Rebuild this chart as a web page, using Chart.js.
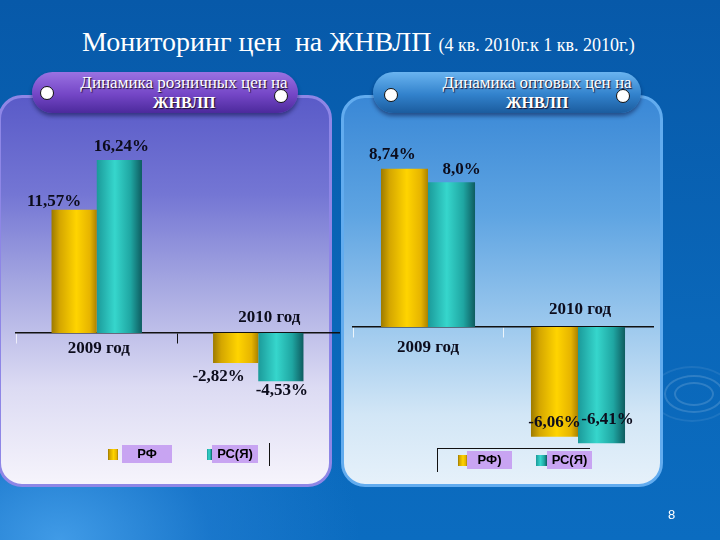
<!DOCTYPE html>
<html>
<head>
<meta charset="utf-8">
<script src="https://cdn.jsdelivr.net/npm/chart.js@4/dist/chart.umd.min.js"></script>
<style>
  html, body { margin: 0; padding: 0; }
  #slide {
    position: relative; width: 720px; height: 540px; overflow: hidden;
    background:
      radial-gradient(ellipse 300px 220px at 60px 540px, rgba(70,160,235,0.9) 0%, rgba(40,130,215,0.5) 50%, rgba(10,100,180,0) 100%),
      linear-gradient(#0759a9, #0a67b9 60%, #0b6cc0);
    font-family: "Liberation Serif", serif;
  }
  .title { position: absolute; left: 82px; top: 26px; color: #fff; font-size: 28px; white-space: nowrap; }
  .title small { font-size: 18px; }
  .panel { position: absolute; top: 95px; height: 386px; border-radius: 24px; }
  #p1 { left: -2px; width: 328px; border: 3px solid #8e86e6;
        background: linear-gradient(#5a5bc8 0%, #7476d4 25%, #a9abe2 50%, #dcdbf3 75%, #f6f4fc 100%); }
  #p2 { left: 341px; width: 316px; border: 3px solid #62acef;
        background: linear-gradient(#3a88d6 0%, #5ea4e2 30%, #9fcaee 60%, #d2e6f6 82%, #e6f1fa 100%); }
  .pill { position: absolute; top: 72px; height: 41px; border-radius: 21px; box-shadow: 0 3px 4px rgba(0,0,40,0.45); }
  #h1 { left: 32px; width: 266px; background: linear-gradient(#9a72e2, #7446c6 55%, #4c2a9c); }
  #h2 { left: 373px; width: 268px; background: linear-gradient(#6ab4f0, #3282cc 55%, #1b5c9e); }
  .dot { position: absolute; width: 12px; height: 12px; border-radius: 50%; background: #fff; border: 1.5px solid #111; }
  .htext { position: absolute; top: 73px; width: 240px; text-align: center; color: #fff; font-size: 17px; line-height: 20px;
           text-shadow: 1px 1px 1px #1a1030; white-space: nowrap; }
  .htext b { font-size: 16px; }
  canvas { position: absolute; left: 0; top: 0; }
  .mark { position: absolute; }
  .lbox { position: absolute; background: #c8a4f2; font: bold 13px "Liberation Sans", Arial, sans-serif; color: #000;
          text-align: center; line-height: 18px; height: 18px; }
  .ring { position: absolute; border-radius: 50%; border: 2px solid rgba(255,255,255,0.15); }
  .pgnum { position: absolute; left: 668px; top: 507px; color: #fff; font: 13px "Liberation Sans", sans-serif; }
</style>
</head>
<body>
<div id="slide">
  <div class="ring" style="left:664px;top:375px;width:56px;height:34px"></div>
  <div class="ring" style="left:674px;top:382px;width:36px;height:20px"></div>
  <div class="ring" style="left:650px;top:366px;width:80px;height:52px;border-color:rgba(255,255,255,0.08)"></div>

  <div class="title">Мониторинг цен&nbsp; на ЖНВЛП <small>(4 кв. 2010г.к 1 кв. 2010г.)</small></div>

  <div class="panel" id="p1"></div>
  <div class="panel" id="p2"></div>

  <div class="pill" id="h1"></div>
  <div class="pill" id="h2"></div>
  <div class="dot" style="left:40px;top:86px"></div>
  <div class="dot" style="left:274px;top:89px"></div>
  <div class="dot" style="left:384px;top:88px"></div>
  <div class="dot" style="left:616px;top:89px"></div>
  <div class="htext" style="left:64px">Динамика розничных цен на<br><b>ЖНВЛП</b></div>
  <div class="htext" style="left:417px">Динамика оптовых цен на<br><b>ЖНВЛП</b></div>

  <canvas id="retail" width="720" height="540"></canvas>
  <canvas id="wholesale" width="720" height="540"></canvas>

  <div id="legend1"></div>
  <div id="legend2"></div>
  <div class="pgnum">8</div>
</div>

<script>
// categories and values
const categories = ["2009 год", "2010 год"];
const retailNames = ["РФ", "РС(Я)"];
const wholesaleNames = ["РФ)", "РС(Я)"];
const retailRF = [11.57, -2.82];
const retailRS = [16.24, -4.53];
const wholesaleRF = [8.74, -6.06];
const wholesaleRS = [8.0, -6.41];
const retailTextRF = ["11,57%", "-2,82%"];
const retailTextRS = ["16,24%", "-4,53%"];
const wholesaleTextRF = ["8,74%", "-6,06%"];
const wholesaleTextRS = ["8,0%", "-6,41%"];

// cylinder shading for bars
const gold = [[0, "#9c7a00"], [0.18, "#d4a600"], [0.55, "#ffd400"], [0.85, "#e6b400"], [1, "#aa8200"]];
const teal = [[0, "#1b9a9a"], [0.4, "#36d6cc"], [0.75, "#1fa6a2"], [1, "#0e5c60"]];

function shade(stops) {
  return function (c) {
    const chart = c.chart;
    const xs = chart.scales.x;
    if (!xs || !chart.chartArea) return stops[2][1];
    const ds = chart.data.datasets;
    const catW = xs.width / chart.data.labels.length;
    const groupW = catW * chart.options.datasets.bar.categoryPercentage;
    const barW = groupW / ds.length;
    const left = xs.getPixelForValue(c.dataIndex) - groupW / 2 + c.datasetIndex * barW;
    const g = chart.ctx.createLinearGradient(left, 0, left + barW, 0);
    stops.forEach(s => g.addColorStop(s[0], s[1]));
    return g;
  };
}

const valueTags = {
  id: "valueTags",
  afterDatasetsDraw(chart, args, opts) {
    const ctx = chart.ctx;
    ctx.save();
    ctx.font = 'bold 17px "Liberation Serif"';
    ctx.fillStyle = "#0c0c1c";
    ctx.textAlign = "center";
    ctx.textBaseline = "middle";
    chart.data.datasets.forEach((ds, i) => {
      chart.getDatasetMeta(i).data.forEach((bar, j) => {
        const o = opts.offsets[i][j];
        ctx.fillText(ds.texts[j], bar.x + o[0], bar.y + o[1]);
      });
    });
    const zero = chart.scales.y.getPixelForValue(0);
    chart.data.labels.forEach((lab, j) => {
      const o = opts.catOffsets[j];
      ctx.fillText(lab, chart.scales.x.getPixelForValue(j) + o[0], zero + o[1]);
    });
    ctx.restore();
  }
};

function makeChart(id, names, rf, rs, trf, trs, yMin, yMax, pad, catPct, offsets, catOffsets, tickColors) {
  return new Chart(document.getElementById(id), {
    type: "bar",
    data: {
      labels: categories,
      datasets: [
        { label: names[0], data: rf, texts: trf, backgroundColor: shade(gold) },
        { label: names[1], data: rs, texts: trs, backgroundColor: shade(teal) }
      ]
    },
    options: {
      responsive: false,
      animation: false,
      events: [],
      datasets: { bar: { categoryPercentage: catPct, barPercentage: 1 } },
      layout: { padding: pad },
      plugins: {
        legend: { display: false },
        tooltip: { enabled: false },
        valueTags: { offsets: offsets, catOffsets: catOffsets }
      },
      scales: {
        x: {
          position: { y: 0 },
          ticks: { display: false },
          border: { display: true, color: "#111", width: 1.5 },
          grid: {
            display: true, offset: true, drawOnChartArea: false, drawTicks: true, tickLength: 10,
            color: c => tickColors[c.index] || "rgba(0,0,0,0)", lineWidth: 1
          }
        },
        y: { display: false, min: yMin, max: yMax }
      }
    },
    plugins: [valueTags]
  });
}

const retail = makeChart("retail", retailNames, retailRF, retailRS, retailTextRF, retailTextRS,
  -10, 20, { left: 16, right: 381, top: 120, bottom: 100.5 }, 0.56,
  [[[-20, -8], [-17, 14]], [[2, -13], [1, 9]]],
  [[2, 16], [11, -15]],
  ["rgba(255,255,255,0.7)", "#111", "rgba(255,255,255,0.7)"]);

const wholesale = makeChart("wholesale", wholesaleNames, wholesaleRF, wholesaleRS, wholesaleTextRF, wholesaleTextRS,
  -8, 10, { left: 353, right: 67, top: 146, bottom: 68 }, 0.627,
  [[[-12, -14], [0, -14]], [[10, -13], [6, -24]]],
  [[0, 20], [2, -18]],
  ["rgba(255,255,255,0.8)", "rgba(255,255,255,0.8)", "rgba(255,255,255,0.8)"]);

// legends built from the chart datasets
function legend(el, chart, items, extra) {
  const host = document.getElementById(el);
  const fills = [gold, teal];
  chart.data.datasets.forEach((ds, i) => {
    const it = items[i];
    const stops = fills[i].map(s => s[1] + " " + (s[0] * 100) + "%").join(",");
    host.insertAdjacentHTML("beforeend",
      '<div class="mark" style="left:' + it.mx + 'px;top:' + it.my + 'px;width:' + it.mw + 'px;height:11px;background:linear-gradient(90deg,' + stops + ')"></div>' +
      '<div class="lbox" style="left:' + it.bx + 'px;top:' + it.by + 'px;width:' + it.bw + 'px">' + ds.label + '</div>');
  });
  host.insertAdjacentHTML("beforeend", extra);
}
legend("legend1", retail, [
  { mx: 108, my: 449, mw: 10, bx: 122, by: 445, bw: 50 },
  { mx: 207, my: 449, mw: 5, bx: 212, by: 445, bw: 46 }
], '<div style="position:absolute;left:269px;top:443px;width:1px;height:23px;background:#111"></div>');
legend("legend2", wholesale, [
  { mx: 458, my: 455, mw: 9, bx: 467, by: 451, bw: 45 },
  { mx: 536, my: 455, mw: 11, bx: 547, by: 451, bw: 45 }
], '<div style="position:absolute;left:437px;top:448px;width:153px;height:1px;background:#111"></div>' +
   '<div style="position:absolute;left:437px;top:448px;width:1px;height:24px;background:#111"></div>');
</script>
</body>
</html>
